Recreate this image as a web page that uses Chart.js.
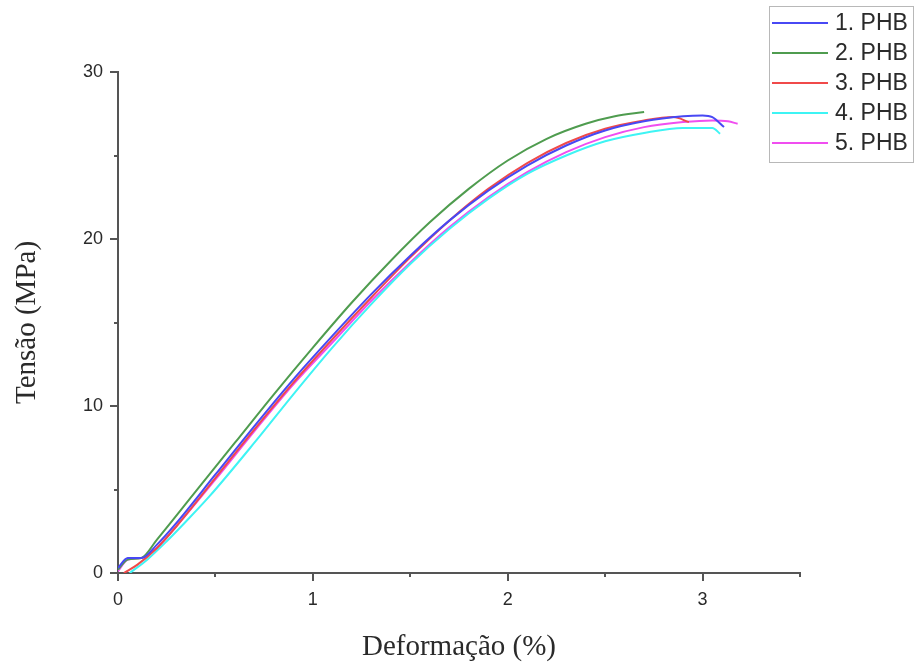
<!DOCTYPE html>
<html>
<head>
<meta charset="utf-8">
<script src="https://cdn.jsdelivr.net/npm/chart.js@4.4.1/dist/chart.umd.min.js"></script>
<style>
    html, body { margin: 0; padding: 0; background: #fff; }
    #wrap { width: 916px; height: 663px; }
</style>
</head>
<body>
<div id="wrap"><canvas id="chart-tensile"></canvas></div>
<script>
// Curvas tensão x deformação das cinco amostras de PHB
const labels = ["1. PHB", "2. PHB", "3. PHB", "4. PHB", "5. PHB"];
const colors = ["#4848f4", "#4f9c4f", "#f04a4a", "#3ef4f4", "#f04ef0"];

const strain1 = [0, 0.05, 0.12, 0.2, 0.3, 0.5, 0.7, 0.9, 1.1, 1.3, 1.5, 1.7, 1.9, 2.1, 2.3, 2.5, 2.7, 2.9, 3.0, 3.05, 3.11];
const stress1 = [0.3, 0.9, 0.9, 1.7, 3.0, 5.9, 8.8, 11.6, 14.2, 16.7, 19.0, 21.1, 22.9, 24.4, 25.6, 26.5, 27.05, 27.35, 27.4, 27.3, 26.7];

const strain2 = [0, 0.05, 0.12, 0.2, 0.4, 0.6, 0.8, 1.0, 1.2, 1.4, 1.6, 1.8, 2.0, 2.2, 2.4, 2.55, 2.7];
const stress2 = [0.2, 0.8, 0.9, 2.0, 4.9, 7.8, 10.7, 13.5, 16.2, 18.7, 21.0, 23.0, 24.7, 26.0, 26.9, 27.35, 27.6];

const strain3 = [0.03, 0.1, 0.2, 0.3, 0.5, 0.7, 0.9, 1.1, 1.3, 1.5, 1.7, 1.9, 2.1, 2.3, 2.5, 2.7, 2.85, 2.93];
const stress3 = [0, 0.5, 1.5, 2.8, 5.7, 8.6, 11.4, 14.0, 16.5, 18.9, 21.1, 23.0, 24.55, 25.75, 26.6, 27.1, 27.3, 27.0];

const strain4 = [0.06, 0.15, 0.25, 0.35, 0.47, 0.7, 0.9, 1.1, 1.3, 1.5, 1.7, 1.9, 2.1, 2.3, 2.5, 2.7, 2.9, 3.05, 3.09];
const stress4 = [0, 0.8, 1.9, 3.1, 4.6, 7.8, 10.7, 13.5, 16.1, 18.5, 20.6, 22.4, 23.9, 25.0, 25.85, 26.35, 26.65, 26.65, 26.3];

const strain5 = [0, 0.05, 0.12, 0.2, 0.3, 0.5, 0.7, 0.9, 1.1, 1.3, 1.5, 1.7, 1.9, 2.1, 2.3, 2.5, 2.7, 2.9, 3.05, 3.13, 3.18];
const stress5 = [0.1, 0.8, 0.9, 1.5, 2.8, 5.6, 8.5, 11.3, 13.8, 16.3, 18.6, 20.7, 22.5, 24.0, 25.2, 26.1, 26.7, 27.0, 27.1, 27.05, 26.9];

const xTicks = [0, 1, 2, 3];
const yTicks = [0, 10, 20, 30];

const strains = [strain1, strain2, strain3, strain4, strain5];
const stresses = [stress1, stress2, stress3, stress4, stress5];

const datasets = labels.map((label, i) => ({
    label: label,
    data: strains[i].map((x, k) => ({ x: x, y: stresses[i][k] })),
    borderColor: colors[i],
    borderWidth: 2,
    pointRadius: 0,
    cubicInterpolationMode: "monotone",
    fill: false,
}));

const axisColor = "#555";
const textColor = "#2a2a2a";

// marcas maiores e menores dos eixos, para fora
const tickMarks = {
    id: "tickMarks",
    afterDraw(chart) {
        const c = chart.ctx;
        const sx = chart.scales.x;
        const sy = chart.scales.y;
        const bottom = chart.chartArea.bottom;
        const left = chart.chartArea.left;
        c.save();
        c.strokeStyle = axisColor;
        c.lineWidth = 2;
        c.beginPath();
        for (let v = 0; v <= 3.5 + 1e-9; v += 0.5) {
            const px = Math.round(sx.getPixelForValue(v));
            const len = Number.isInteger(v) ? 8 : 4;
            c.moveTo(px, bottom);
            c.lineTo(px, bottom + len);
        }
        for (let v = 0; v <= 30; v += 5) {
            const py = Math.round(sy.getPixelForValue(v));
            const len = v % 10 === 0 ? 8 : 4;
            c.moveTo(left, py);
            c.lineTo(left - len, py);
        }
        c.stroke();
        c.restore();
    },
};

// legenda em caixa no canto superior direito
const boxLegend = {
    id: "boxLegend",
    afterDraw(chart) {
        const c = chart.ctx;
        c.save();
        c.strokeStyle = "#b8b8b8";
        c.lineWidth = 1;
        c.strokeRect(769.5, 6.5, 144, 156);
        c.font = "23px 'Liberation Sans', Arial, sans-serif";
        c.textBaseline = "middle";
        c.fillStyle = textColor;
        chart.data.datasets.forEach((ds, i) => {
            const y = 23 + i * 30;
            c.strokeStyle = ds.borderColor;
            c.lineWidth = 2;
            c.beginPath();
            c.moveTo(772, y);
            c.lineTo(828, y);
            c.stroke();
            c.fillText(ds.label, 835, y + 1);
        });
        c.restore();
    },
};

var ctx = document.getElementById("chart-tensile").getContext("2d");

new Chart(ctx, {
    type: "line",
    data: { datasets: datasets },
    options: {
        responsive: true,
        maintainAspectRatio: false,
        animation: false,
        layout: {
            padding: { top: 72, right: 116, left: 0, bottom: 0 },
        },
        plugins: {
            legend: { display: false },
            tooltip: { enabled: false },
        },
        scales: {
            x: {
                type: "linear",
                min: 0,
                max: 3.5,
                afterFit: (scale) => { scale.height = 90; },
                afterBuildTicks: (scale) => {
                    scale.ticks = xTicks.map((v) => ({ value: v }));
                },
                grid: { display: false, drawTicks: false },
                border: { display: true, color: axisColor, width: 2 },
                ticks: {
                    padding: 16,
                    color: textColor,
                    font: { size: 18, family: "'Liberation Sans', Arial, sans-serif" },
                },
                title: {
                    display: true,
                    text: "Deformação (%)",
                    color: textColor,
                    padding: { top: 0, bottom: 1 },
                    font: { size: 29, family: "'Liberation Serif', 'Times New Roman', serif", lineHeight: 1 },
                },
            },
            y: {
                min: 0,
                max: 30,
                afterFit: (scale) => { scale.width = 118; },
                afterBuildTicks: (scale) => {
                    scale.ticks = yTicks.map((v) => ({ value: v }));
                },
                grid: { display: false, drawTicks: false },
                border: { display: true, color: axisColor, width: 2 },
                ticks: {
                    padding: 15,
                    color: textColor,
                    font: { size: 18, family: "'Liberation Sans', Arial, sans-serif" },
                },
                title: {
                    display: true,
                    text: "Tensão (MPa)",
                    color: textColor,
                    padding: { top: 13, bottom: 0 },
                    font: { size: 29, family: "'Liberation Serif', 'Times New Roman', serif", lineHeight: 1 },
                },
            },
        },
    },
    plugins: [tickMarks, boxLegend],
});
</script>
</body>
</html>
